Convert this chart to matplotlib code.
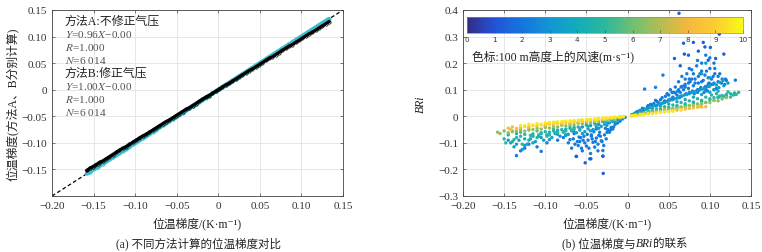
import matplotlib
matplotlib.use("Agg")
import matplotlib.pyplot as plt
import numpy as np
from matplotlib.colors import LinearSegmentedColormap
from matplotlib.ticker import FixedLocator, FuncFormatter
from matplotlib.offsetbox import TextArea, HPacker, AnchoredOffsetbox

plt.rcParams['font.family'] = ['Liberation Serif', 'Noto Sans CJK SC', 'DejaVu Serif']
plt.rcParams['mathtext.fontset'] = 'stix'
plt.rcParams['axes.unicode_minus'] = True

# ---------------- Panel (a) data ----------------
grad_x = [-0.158, -0.154, -0.151, -0.148, -0.145, -0.142, -0.139, -0.135, -0.131, -0.127,
          -0.123, -0.119, -0.115, -0.111, -0.107, -0.103, -0.099, -0.095, -0.091, -0.087,
          -0.083, -0.079, -0.075, -0.071, -0.067, -0.063, -0.059, -0.055, -0.051, -0.047,
          -0.043, -0.039, -0.035, -0.031, -0.027, -0.023, -0.019, -0.015, -0.011, -0.007,
          -0.003, 0.001, 0.005, 0.009, 0.013, 0.017, 0.021, 0.025, 0.029, 0.033,
          0.037, 0.041, 0.045, 0.049, 0.053, 0.057, 0.061, 0.065, 0.069, 0.073,
          0.077, 0.081, 0.085, 0.089, 0.093, 0.097, 0.101, 0.105, 0.109, 0.113,
          0.117, 0.121, 0.125, 0.129, 0.133]
grad_A = [-0.152, -0.147, -0.145, -0.142, -0.139, -0.136, -0.134, -0.130, -0.126, -0.122,
          -0.118, -0.114, -0.110, -0.107, -0.103, -0.099, -0.095, -0.091, -0.087, -0.084,
          -0.080, -0.076, -0.072, -0.068, -0.064, -0.060, -0.057, -0.053, -0.049, -0.045,
          -0.041, -0.037, -0.034, -0.030, -0.026, -0.022, -0.018, -0.014, -0.011, -0.007,
          -0.003, 0.001, 0.005, 0.009, 0.012, 0.016, 0.020, 0.024, 0.028, 0.032,
          0.036, 0.039, 0.043, 0.047, 0.051, 0.055, 0.059, 0.062, 0.066, 0.070,
          0.074, 0.078, 0.082, 0.085, 0.089, 0.093, 0.097, 0.101, 0.105, 0.108,
          0.112, 0.116, 0.120, 0.124, 0.128]
grad_B = [-0.157, -0.154, -0.150, -0.148, -0.145, -0.141, -0.139, -0.135, -0.131, -0.127,
          -0.123, -0.119, -0.115, -0.111, -0.107, -0.103, -0.099, -0.095, -0.091, -0.087,
          -0.083, -0.079, -0.075, -0.071, -0.067, -0.063, -0.059, -0.055, -0.051, -0.047,
          -0.043, -0.039, -0.035, -0.031, -0.027, -0.023, -0.019, -0.015, -0.011, -0.007,
          -0.003, 0.001, 0.005, 0.009, 0.013, 0.017, 0.021, 0.025, 0.029, 0.033,
          0.037, 0.041, 0.045, 0.049, 0.053, 0.057, 0.061, 0.065, 0.069, 0.073,
          0.077, 0.081, 0.085, 0.089, 0.093, 0.097, 0.101, 0.105, 0.109, 0.113,
          0.117, 0.121, 0.125, 0.129, 0.133]
one_to_one = [-0.2, 0.15]

text_a = ["方法A:不修正气压", "$Y$=0.96$X$\u22120.00", "$R$=1.000", "$N$=6 014",
          "方法B:修正气压", "$Y$=1.00$X$\u22120.00", "$R$=1.000", "$N$=6 014"]

# ---------------- Panel (b) data (x, BRi, per wind-speed group) ----------------
yel_x = [-0.13, -0.12, -0.11, -0.10, -0.095, -0.09, -0.085, -0.08, -0.075, -0.07, -0.065, -0.06,
         -0.055, -0.05, -0.045, -0.04, -0.035, -0.03, -0.025, -0.02, -0.015, -0.01, -0.005,
         0.005, 0.01, 0.015, 0.02, 0.03, 0.04, 0.05,
         -0.125, -0.115, -0.105, -0.098, -0.088, -0.078, -0.068, -0.058, -0.048, -0.038, -0.028,
         -0.018, -0.008, 0.008, 0.018, 0.025, 0.035, 0.045, 0.055, 0.065]
yel_y = [-0.035, -0.030, -0.028, -0.025, -0.023, -0.022, -0.021, -0.020, -0.018, -0.017, -0.016, -0.015,
         -0.013, -0.012, -0.011, -0.010, -0.008, -0.007, -0.006, -0.005, -0.004, -0.003, -0.001,
         0.002, 0.003, 0.005, 0.007, 0.010, 0.014, 0.017,
         -0.036, -0.033, -0.030, -0.027, -0.024, -0.021, -0.019, -0.016, -0.014, -0.011, -0.008,
         -0.005, -0.002, 0.003, 0.006, 0.009, 0.012, 0.016, 0.019, 0.023]
yel_w = 9.6

org_x = [-0.145, -0.14, -0.135, -0.125, -0.115, -0.105, -0.095, -0.085, -0.075, -0.065, -0.055, -0.045,
         -0.035, -0.025, -0.015, 0.01, 0.02, 0.03, 0.04, 0.05, 0.06, 0.07, 0.08, 0.09, 0.095, 0.088, 0.075,
         -0.142, -0.13, -0.12, -0.11, -0.10, -0.09, -0.08, -0.07, -0.06, -0.05, -0.04, -0.03, -0.02, -0.01,
         0.005, 0.015, 0.025, 0.035, 0.045, 0.055, 0.065, 0.075, 0.085]
org_y = [-0.045, -0.040, -0.046, -0.038, -0.035, -0.032, -0.029, -0.026, -0.023, -0.020, -0.018, -0.015,
         -0.012, -0.009, -0.006, 0.004, 0.008, 0.011, 0.015, 0.019, 0.023, 0.027, 0.031, 0.035, 0.036, 0.037, 0.030,
         -0.050, -0.042, -0.040, -0.036, -0.034, -0.031, -0.028, -0.025, -0.022, -0.019, -0.016, -0.012, -0.008,
         -0.004, 0.002, 0.006, 0.010, 0.014, 0.018, 0.022, 0.026, 0.030, 0.034]
org_w = 8.3

grn_x = [-0.158, -0.15, -0.14, -0.13, -0.12, -0.11, -0.10, -0.09, -0.08, -0.07, -0.06, -0.05, -0.04,
         -0.03, -0.02, -0.01, 0.01, 0.02, 0.03, 0.04, 0.05, 0.06, 0.07, 0.08, 0.09, 0.10, 0.11,
         -0.155, -0.145, -0.135, -0.125, -0.115, -0.105, -0.095, -0.085, -0.075, -0.065, -0.055, -0.045,
         -0.035, -0.025, -0.015, -0.005, 0.005, 0.015, 0.025, 0.035, 0.045, 0.055, 0.065, 0.075, 0.085,
         0.095, 0.105, 0.115, 0.12]
grn_y = [-0.060, -0.055, -0.058, -0.050, -0.052, -0.045, -0.042, -0.038, -0.034, -0.030, -0.026, -0.022, -0.018,
         -0.013, -0.009, -0.004, 0.005, 0.010, 0.015, 0.020, 0.025, 0.030, 0.035, 0.040, 0.046, 0.052, 0.058,
         -0.065, -0.062, -0.055, -0.056, -0.050, -0.048, -0.044, -0.040, -0.036, -0.032, -0.028, -0.024,
         -0.020, -0.015, -0.010, -0.003, 0.003, 0.009, 0.014, 0.019, 0.025, 0.030, 0.035, 0.041, 0.046,
         0.052, 0.060, 0.066, 0.070]
grn_w = 6.5

teal_x = [-0.15, -0.145, -0.14, -0.135, -0.13, -0.125, -0.12, -0.115, -0.11, -0.105, -0.10, -0.095, -0.09,
          -0.085, -0.08, -0.075, -0.07, -0.065, -0.06, -0.05, -0.04, -0.03, -0.02, -0.01, 0.01, 0.02, 0.03,
          0.04, 0.05, 0.06, 0.07, 0.08, 0.09, 0.10, 0.105, 0.11, 0.115, 0.12, 0.125, 0.13, 0.135, 0.128, 0.118,
          -0.148, -0.138, -0.128, -0.118, -0.108, -0.098, -0.088, -0.078, -0.068, -0.058, -0.048, -0.038,
          -0.028, -0.018, -0.008, 0.008, 0.015, 0.025, 0.035, 0.045, 0.055, 0.065, 0.075, 0.085, 0.095,
          0.102, 0.108, 0.112, 0.122, 0.132]
teal_y = [-0.085, -0.070, -0.095, -0.080, -0.075, -0.068, -0.090, -0.066, -0.080, -0.062, -0.058, -0.070, -0.055,
          -0.060, -0.050, -0.055, -0.045, -0.048, -0.040, -0.034, -0.028, -0.020, -0.014, -0.007, 0.007, 0.013, 0.020,
          0.027, 0.033, 0.040, 0.047, 0.054, 0.060, 0.066, 0.070, 0.072, 0.078, 0.082, 0.085, 0.088, 0.090, 0.080, 0.075,
          -0.100, -0.088, -0.105, -0.072, -0.070, -0.075, -0.062, -0.058, -0.052, -0.045, -0.038, -0.032,
          -0.024, -0.016, -0.007, 0.007, 0.012, 0.020, 0.028, 0.036, 0.042, 0.052, 0.058, 0.066, 0.072,
          0.080, 0.085, 0.076, 0.092, 0.082]
teal_w = 4.8

lb_x = [-0.142, -0.138, -0.132, -0.128, -0.122, -0.118, -0.112, -0.108, -0.102, -0.098, -0.092, -0.088, -0.082,
        -0.078, -0.072, -0.068, -0.062, -0.058, -0.052, -0.048, -0.042, -0.038, -0.032, -0.028, -0.022, -0.018,
        -0.012, -0.006, 0.006, 0.012, 0.018, 0.024, 0.03, 0.036, 0.042, 0.048, 0.054, 0.06, 0.066, 0.072, 0.078,
        0.084, 0.09, 0.096, 0.1, 0.104, 0.108, 0.112, 0.116, 0.09, 0.095, 0.1,
        -0.145, -0.135, -0.125, -0.115, -0.105, -0.095, -0.085, -0.075, -0.065, -0.055, -0.045, -0.035,
        -0.025, -0.015, -0.008, 0.008, 0.015, 0.021, 0.027, 0.033, 0.039, 0.045, 0.051, 0.057, 0.063,
        0.069, 0.075, 0.081, 0.087, 0.093, 0.099, 0.105, 0.111, 0.117, 0.122]
lb_y = [-0.100, -0.115, -0.090, -0.125, -0.105, -0.085, -0.095, -0.075, -0.090, -0.070, -0.080, -0.065, -0.075,
        -0.060, -0.068, -0.055, -0.062, -0.052, -0.058, -0.047, -0.050, -0.040, -0.038, -0.030, -0.025, -0.020,
        -0.013, -0.006, 0.006, 0.013, 0.020, 0.027, 0.034, 0.042, 0.048, 0.056, 0.062, 0.068, 0.076, 0.082, 0.090,
        0.096, 0.102, 0.110, 0.115, 0.120, 0.118, 0.128, 0.135, 0.16, 0.20, 0.145,
        -0.090, -0.105, -0.110, -0.100, -0.080, -0.088, -0.068, -0.072, -0.058, -0.065, -0.055, -0.045,
        -0.034, -0.022, -0.010, 0.010, 0.018, 0.025, 0.032, 0.040, 0.046, 0.052, 0.060, 0.066, 0.074,
        0.080, 0.085, 0.092, 0.098, 0.104, 0.112, 0.100, 0.108, 0.115, 0.125]
lb_w = 3.4

blue_x = [-0.135, -0.125, -0.105, -0.098, -0.085, -0.078, -0.072, -0.068, -0.066, -0.062, -0.06, -0.058, -0.055,
          -0.053, -0.05, -0.048, -0.046, -0.044, -0.042, -0.04, -0.038, -0.036, -0.034, -0.032, -0.03, -0.03,
          -0.028, -0.026, -0.024, -0.022, -0.02, -0.018, -0.015, -0.012, -0.009, -0.006, -0.003, -0.065, -0.057,
          -0.049, -0.041, -0.035, -0.027, -0.061, -0.045, -0.038, -0.052,
          -0.075, -0.07, -0.064, -0.059, -0.054, -0.047, -0.043, -0.039, -0.033, -0.029, -0.025, -0.021,
          -0.017, -0.056, -0.044, -0.036, -0.031, -0.12, -0.11, -0.13,
          0.005, 0.01, 0.015, 0.02, 0.025, 0.03, 0.034, 0.038, 0.042, 0.045, 0.048, 0.05, 0.052, 0.055, 0.058,
          0.06, 0.062, 0.064, 0.066, 0.068, 0.07, 0.072, 0.074, 0.076, 0.078, 0.08, 0.082, 0.084, 0.086, 0.088,
          0.09, 0.092, 0.094, 0.096, 0.098, 0.1, 0.102, 0.104, 0.106, 0.108, 0.11, 0.112, 0.115, 0.118, 0.12,
          0.044, 0.056, 0.063, 0.071, 0.079, 0.087, 0.093, 0.099, 0.105, 0.065, 0.075, 0.085, 0.095, 0.053,
          0.061, 0.069, 0.081, 0.089, 0.097, 0.0207, 0.034, 0.043, 0.119, 0.131,
          0.012, 0.018, 0.024, 0.028, 0.032, 0.036, 0.04, 0.046, 0.05, 0.054, 0.058, 0.062, 0.066, 0.07,
          0.074, 0.078, 0.082, 0.086, 0.09, 0.094, 0.098, 0.102, 0.106, 0.11, 0.114, 0.1, 0.09, 0.08, 0.07,
          0.105, 0.095, 0.085, 0.075]
blue_y = [-0.148, -0.120, -0.132, -0.100, -0.090, -0.080, -0.100, -0.120, -0.085, -0.151, -0.110, -0.095, -0.130,
          -0.075, -0.112, -0.090, -0.160, -0.070, -0.098, -0.116, -0.082, -0.105, -0.060, -0.092, -0.129, -0.150,
          -0.070, -0.085, -0.050, -0.060, -0.042, -0.048, -0.030, -0.025, -0.018, -0.010, -0.004, -0.065, -0.080,
          -0.068, -0.058, -0.072, -0.045, -0.095, -0.140, -0.048, -0.100,
          -0.070, -0.088, -0.105, -0.078, -0.090, -0.120, -0.085, -0.095, -0.075, -0.110, -0.060, -0.052,
          -0.040, -0.120, -0.075, -0.130, -0.095, -0.105, -0.115, -0.130,
          0.006, 0.014, 0.022, 0.028, 0.040, 0.042, 0.060, 0.050, 0.070, 0.058, 0.085, 0.062, 0.100, 0.072, 0.110,
          0.080, 0.130, 0.090, 0.150, 0.100, 0.120, 0.160, 0.105, 0.130, 0.175, 0.115, 0.140, 0.190, 0.125, 0.160,
          0.200, 0.135, 0.110, 0.170, 0.145, 0.220, 0.120, 0.150, 0.180, 0.105, 0.130, 0.160, 0.140, 0.120, 0.135,
          0.052, 0.090, 0.070, 0.085, 0.095, 0.100, 0.090, 0.125, 0.100, 0.110, 0.140, 0.090, 0.100, 0.065,
          0.095, 0.115, 0.085, 0.108, 0.095, 0.1025, 0.109, 0.155, 0.140, 0.136,
          0.018, 0.030, 0.035, 0.045, 0.048, 0.055, 0.062, 0.075, 0.080, 0.090, 0.088, 0.100, 0.112, 0.110,
          0.125, 0.140, 0.125, 0.150, 0.130, 0.155, 0.120, 0.140, 0.160, 0.150, 0.125, 0.180, 0.170, 0.160, 0.140,
          0.200, 0.230, 0.210, 0.180]
blue_w = 2.2

dark_x = [0.0625, 0.1115, 0.068, 0.080, 0.092, 0.094, 0.1006, 0.057, 0.069, 0.107, 0.117, 0.098,
          -0.0296, -0.0515, -0.0446, -0.0625, -0.03, 0.074, 0.086, 0.064]
dark_y = [0.3875, 0.309, 0.275, 0.278, 0.278, 0.261, 0.259, 0.2175, 0.234, 0.2175, 0.234, 0.211,
          -0.215, -0.175, -0.16, -0.151, -0.15, 0.23, 0.245, 0.19]
dark_w = 1.3

# mixed-speed points filling the dense band (each with its own wind speed)
mix_x = [0.02, 0.025, 0.03, 0.035, 0.04, 0.045, 0.05, 0.055, 0.06, 0.065, 0.07, 0.075, 0.08, 0.085,
         0.09, 0.095, 0.1, 0.105, 0.11, 0.115, 0.12, 0.125, 0.13,
         0.03, 0.04, 0.05, 0.06, 0.07, 0.08, 0.09, 0.1, 0.11, 0.035, 0.045, 0.055, 0.065, 0.075, 0.085,
         0.095, 0.105,
         -0.14, -0.13, -0.12, -0.11, -0.1, -0.09, -0.08, -0.07, -0.06, -0.05, -0.04, -0.03, -0.02, -0.01,
         -0.135, -0.125, -0.115, -0.105, -0.095, -0.085, -0.075, -0.065, -0.055, -0.045, -0.035, -0.025]
mix_y = [0.012, 0.016, 0.020, 0.018, 0.026, 0.022, 0.030, 0.028, 0.036, 0.034, 0.042, 0.040, 0.050, 0.046,
         0.056, 0.052, 0.062, 0.060, 0.070, 0.066, 0.076, 0.072, 0.082,
         0.030, 0.038, 0.046, 0.055, 0.063, 0.072, 0.082, 0.090, 0.095, 0.040, 0.052, 0.064, 0.076, 0.090,
         0.100, 0.112, 0.125,
         -0.055, -0.060, -0.045, -0.055, -0.038, -0.048, -0.030, -0.038, -0.025, -0.030, -0.020, -0.018,
         -0.012, -0.006,
         -0.065, -0.085, -0.075, -0.065, -0.060, -0.052, -0.048, -0.042, -0.040, -0.035, -0.030, -0.022]
mix_w = [7.5, 6.0, 5.5, 7.0, 5.2, 7.2, 5.8, 7.0, 5.5, 6.8, 5.6, 7.0, 5.4, 6.5,
         5.5, 6.2, 5.3, 6.0, 5.0, 5.8, 4.8, 5.5, 4.6,
         4.2, 4.0, 4.0, 3.8, 3.9, 3.8, 3.6, 3.7, 4.0, 3.0, 3.0, 2.8, 2.9, 2.8, 2.7,
         2.8, 2.6,
         7.0, 5.5, 7.2, 5.8, 7.0, 5.5, 7.5, 5.8, 7.0, 5.5, 7.0, 5.0, 5.5, 6.0,
         4.2, 4.0, 4.2, 4.4, 4.2, 4.0, 3.8, 3.6, 3.2, 3.0, 2.8, 2.8]

wind_ticks = [0, 1, 2, 3, 4, 5, 6, 7, 8, 9, 10]
grad_ticks = [-0.20, -0.15, -0.10, -0.05, 0.0, 0.05, 0.10, 0.15]
bri_ticks = [-0.3, -0.2, -0.1, 0.0, 0.1, 0.2, 0.3, 0.4]

parula = LinearSegmentedColormap.from_list("parula_like", [
    (0.00, (0.208, 0.166, 0.529)),
    (0.10, (0.130, 0.330, 0.850)),
    (0.20, (0.080, 0.460, 0.870)),
    (0.30, (0.070, 0.590, 0.830)),
    (0.40, (0.080, 0.670, 0.740)),
    (0.50, (0.180, 0.720, 0.610)),
    (0.60, (0.430, 0.750, 0.450)),
    (0.70, (0.700, 0.740, 0.330)),
    (0.80, (0.960, 0.720, 0.240)),
    (0.90, (0.990, 0.800, 0.200)),
    (1.00, (0.970, 0.980, 0.080)),
])

MINUS = '\u2212'


def fmt2(v, pos=None):
    if abs(v) < 1e-9:
        return "0"
    s = f"{abs(v):.2f}"
    return (MINUS + s) if v < 0 else s


def fmt1(v, pos=None):
    if abs(v) < 1e-9:
        return "0"
    s = f"{abs(v):.1f}"
    return (MINUS + s) if v < 0 else s


fig = plt.figure(figsize=(7.62, 2.53), dpi=100)
W, H = 762, 253
TXT = '#222222'


def style(ax):
    ax.grid(True, color='#e3e3e3', lw=0.6)
    ax.set_axisbelow(True)
    for s in ax.spines.values():
        s.set_color('#444444')
        s.set_linewidth(0.6)
    ax.tick_params(direction='in', length=2.5, width=0.5, colors='#444444',
                   labelcolor='#333333', labelsize=8, top=True, right=True)


# ---------------- Panel (a) ----------------
axa = fig.add_axes([52 / W, 1 - 197 / H, (343 - 52) / W, (197 - 11) / H])
style(axa)
axa.plot(one_to_one, one_to_one, ls=(0, (3, 2)), color='black', lw=0.9, zorder=1)
axa.plot(grad_x, grad_B, color='#3bbfcf', lw=3.2, zorder=2, solid_capstyle='round')
axa.plot(grad_x, grad_B, ls='none', marker='o', ms=2.4, mfc='none', mec='#3bbfcf', mew=0.6, zorder=2)
axa.plot(grad_x, grad_A, color='black', lw=2.3, zorder=3)
axa.plot(grad_x, grad_A, ls='none', marker='o', ms=2.4, mfc='none', mec='black', mew=0.5, zorder=3)
axa.set_xlim(-0.2, 0.15)
axa.set_ylim(-0.2, 0.15)
axa.xaxis.set_major_locator(FixedLocator(grad_ticks))
axa.yaxis.set_major_locator(FixedLocator(grad_ticks))
axa.xaxis.set_major_formatter(FuncFormatter(fmt2))
axa.yaxis.set_major_formatter(FuncFormatter(lambda v, p: "" if v < -0.19 else fmt2(v)))
axa.set_xlabel("位温梯度/(K·m\u207b\u00b9)", fontsize=8.5, color=TXT, labelpad=5)
axa.set_ylabel("位温梯度(方法A、B分别计算)", fontsize=8.5, color=TXT, labelpad=2)

ty = [0.1295, 0.1052, 0.0809, 0.0566, 0.0323, 0.0080, -0.0163, -0.0406]
for i, t in enumerate(text_a):
    head = t.startswith("方法")
    axa.text(-0.1848, ty[i], t, fontsize=8.6 if head else 8.2,
             color=TXT if head else '#555555', va='center', ha='left')

# ---------------- Panel (b) ----------------
axb = fig.add_axes([463 / W, 1 - 197 / H, (751 - 463) / W, (197 - 11) / H])
style(axb)
groups = [(blue_x, blue_y, [blue_w] * len(blue_x)), (dark_x, dark_y, [dark_w] * len(dark_x)),
          (lb_x, lb_y, [lb_w] * len(lb_x)), (mix_x, mix_y, mix_w),
          (teal_x, teal_y, [teal_w] * len(teal_x)), (grn_x, grn_y, [grn_w] * len(grn_x)),
          (org_x, org_y, [org_w] * len(org_x)), (yel_x, yel_y, [yel_w] * len(yel_x))]
sc = None
for gx, gy, gw in groups:
    sc = axb.scatter(gx, gy, c=gw, cmap=parula, vmin=0, vmax=10,
                     s=6, marker='o', linewidths=0, zorder=2)
axb.set_xlim(-0.2, 0.15)
axb.set_ylim(-0.3, 0.4)
axb.xaxis.set_major_locator(FixedLocator(grad_ticks))
axb.yaxis.set_major_locator(FixedLocator(bri_ticks))
axb.xaxis.set_major_formatter(FuncFormatter(fmt2))
axb.yaxis.set_major_formatter(FuncFormatter(fmt1))
axb.set_xlabel("位温梯度/(K·m\u207b\u00b9)", fontsize=8.5, color=TXT, labelpad=5)
axb.set_ylabel("BRi", fontsize=8.5, color=TXT, labelpad=8, style='italic')

cax = axb.inset_axes([0.014, 0.876, 0.958, 0.086])
cb = fig.colorbar(sc, cax=cax, orientation='horizontal', ticks=wind_ticks)
cb.outline.set_edgecolor('#888888')
cb.outline.set_linewidth(0.5)
cax.tick_params(direction='in', length=2, width=0.4, colors='#444444',
                labelsize=5.2, labelcolor='#333333', pad=2)
for lab in cax.get_xticklabels():
    lab.set_fontfamily('DejaVu Sans')
axb.text(0.03, 0.754, "色标:100 m高度上的风速(m·s\u207b\u00b9)", transform=axb.transAxes,
         fontsize=8.5, color=TXT, va='center', ha='left')

# ---------------- Captions ----------------
fig.text(198 / W, 1 - 244 / H, "(a) 不同方法计算的位温梯度对比", fontsize=8.3,
         ha='center', va='center', color=TXT)
cap_parts = [TextArea("(b) 位温梯度与", textprops=dict(fontsize=8.3, color=TXT)),
             TextArea("BRi", textprops=dict(fontsize=8.3, color=TXT, style='italic')),
             TextArea("的联系", textprops=dict(fontsize=8.3, color=TXT))]
cap_box = HPacker(children=cap_parts, align="baseline", pad=0, sep=0)
fig.add_artist(AnchoredOffsetbox(loc='center', child=cap_box, frameon=False, pad=0, borderpad=0,
                                 bbox_to_anchor=(625 / W, 1 - 244 / H),
                                 bbox_transform=fig.transFigure))

fig.savefig("out.png", dpi=100)
